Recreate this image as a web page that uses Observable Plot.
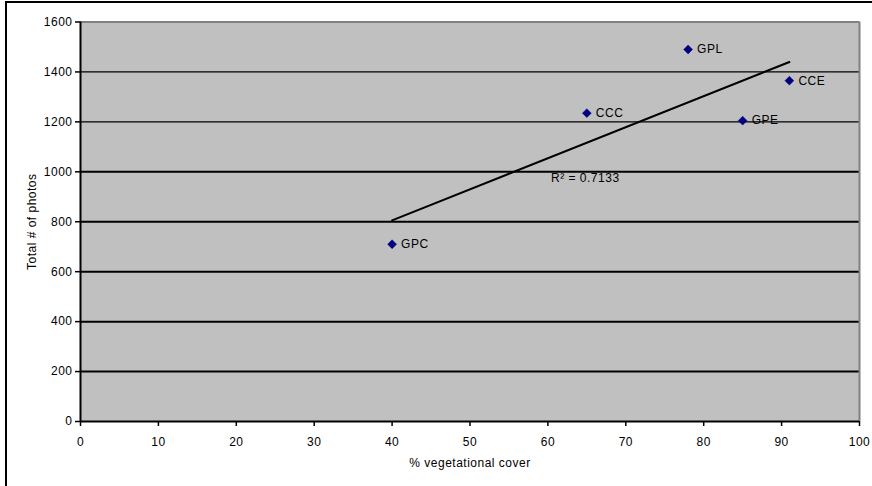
<!DOCTYPE html>
<html>
<head>
<meta charset="utf-8">
<script src="https://cdn.jsdelivr.net/npm/d3@7"></script>
<script src="https://cdn.jsdelivr.net/npm/@observablehq/plot@0.6"></script>
<style>
  html, body { margin: 0; padding: 0; background: #fff; overflow: hidden; }
  #wrap { position: relative; width: 872px; height: 486px; }
  #border { position: absolute; left: 5px; top: 1px; width: 1000px; height: 1000px;
            border-left: 2px solid #000; border-top: 2px solid #000; pointer-events: none; }
  svg { font-family: "Liberation Sans", Arial, sans-serif; }
  svg text { letter-spacing: 0.5px; }
</style>
</head>
<body>
<div id="wrap"><div id="chart"></div><div id="border"></div></div>
<script>
const sites = ["GPC", "CCC", "GPL", "GPE", "CCE"];
const cover = [40, 65, 78, 85, 91];
const photos = [710, 1235, 1490, 1205, 1365];
const xTicks = [0, 10, 20, 30, 40, 50, 60, 70, 80, 90, 100];
const yTicks = [0, 200, 400, 600, 800, 1000, 1200, 1400, 1600];
const rSquaredLabel = "R² = 0.7133";
const rSquaredPos = [64.8, 975];

const data = sites.map((s, i) => ({site: s, x: cover[i], y: photos[i]}));
const innerY = yTicks.filter(v => v > 0 && v < 1600);

const chart = Plot.plot({
  width: 872,
  height: 486,
  marginLeft: 80,
  marginRight: 13,
  marginTop: 21.5,
  marginBottom: 65,
  style: {fontFamily: '"Liberation Sans", Arial, sans-serif', fontSize: "12px", color: "#000", background: "transparent"},
  x: {domain: [0, 100]},
  y: {domain: [0, 1600]},
  marks: [
    Plot.frame({fill: "#c0c0c0", stroke: null}),
    Plot.ruleY(innerY, {stroke: "#000", strokeWidth: d => (d >= 1200 ? 1.2 : 2)}),
    Plot.ruleY([1600], {stroke: "#808080", strokeWidth: 2}),
    Plot.ruleX([100], {stroke: "#808080", strokeWidth: 2}),
    Plot.ruleX([0], {stroke: "#000", strokeWidth: 2}),
    Plot.ruleY([0], {stroke: "#000", strokeWidth: 2}),
    Plot.axisX({ticks: xTicks, tickSize: 5, tickPadding: 11, tickFormat: d => String(d), fontSize: 12, stroke: "#000", strokeWidth: 1.5,
      label: "% vegetational cover", labelAnchor: "center", labelArrow: "none", labelOffset: 45}),
    Plot.axisY({ticks: yTicks, tickSize: 5, tickPadding: 3, tickFormat: d => String(d), fontSize: 12, stroke: "#000", strokeWidth: 1.5,
      label: "Total # of photos", labelAnchor: "center", labelArrow: "none", labelOffset: 53}),
    Plot.linearRegressionY(data, {x: "x", y: "y", stroke: "#000", strokeWidth: 2, ci: 0}),
    Plot.dot(data, {x: "x", y: "y", symbol: "diamond2", r: 4, fill: "#000080", stroke: "#000080", strokeWidth: 0.5}),
    Plot.text(data, {x: "x", y: "y", text: "site", dx: 9, textAnchor: "start", fontSize: 12, fill: "#000"}),
    Plot.text([rSquaredLabel], {x: () => rSquaredPos[0], y: () => rSquaredPos[1], text: d => d, fontSize: 12, fill: "#000"})
  ]
});
document.getElementById("chart").appendChild(chart);
</script>
</body>
</html>
